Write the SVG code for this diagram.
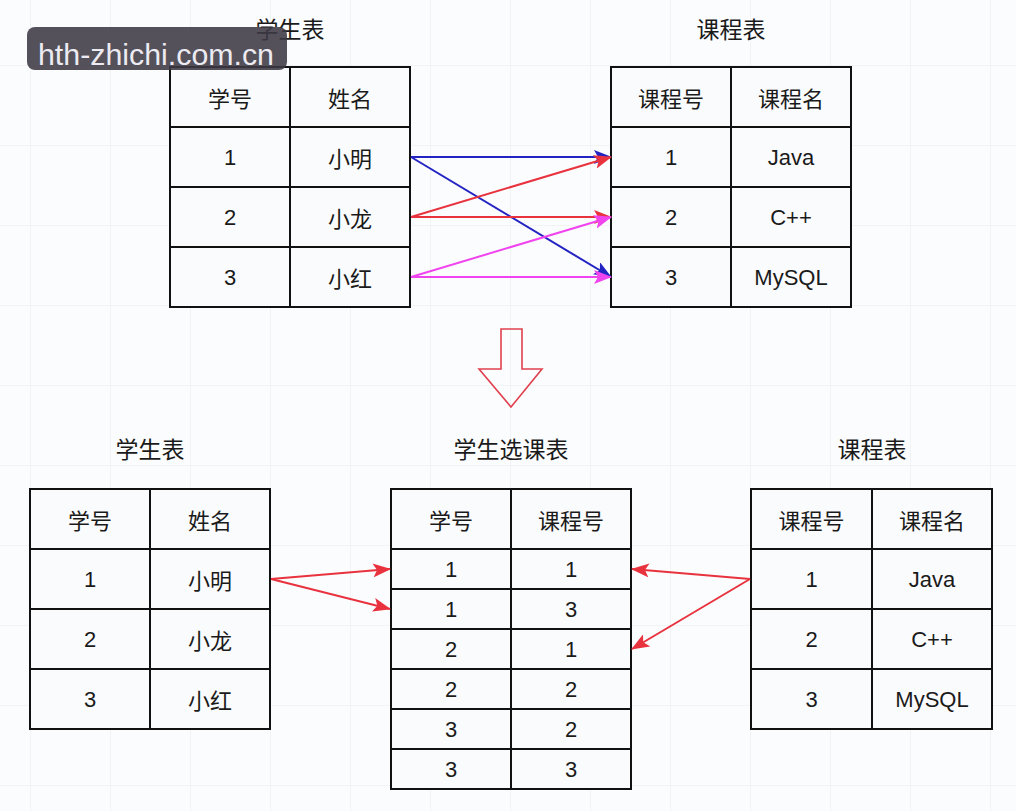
<svg xmlns="http://www.w3.org/2000/svg" width="1016" height="811" viewBox="0 0 1016 811">
<style>
.cell{fill:#fafbfd;stroke:#111;stroke-width:2}
.ln{stroke:#111;stroke-width:2}
.t{font-family:"Liberation Sans","Noto Sans CJK SC",sans-serif;font-size:22px;fill:#1a1a1a;text-anchor:middle;dominant-baseline:central}
.cj{font-family:"Noto Sans CJK SC",sans-serif;font-size:22px;fill:#1a1a1a;text-anchor:middle;dominant-baseline:central}
.title{font-family:"Noto Sans CJK SC",sans-serif;font-size:23px;fill:#1a1a1a;text-anchor:middle;dominant-baseline:central}
.grid{stroke:#e9eaec;stroke-width:1}
</style>
<defs>
<pattern id="gp" x="30" y="65" width="80" height="80" patternUnits="userSpaceOnUse">
<path d="M0,0 H80 M0,0 V80" class="grid" fill="none"/>
</pattern>
<marker id="mb" viewBox="0 0 18 14" refX="17" refY="7" markerWidth="18" markerHeight="14" markerUnits="userSpaceOnUse" orient="auto"><path d="M0,0 L18,7 L0,14 L4,7 z" fill="#2323c4"/></marker>
<marker id="mr" viewBox="0 0 18 14" refX="17" refY="7" markerWidth="18" markerHeight="14" markerUnits="userSpaceOnUse" orient="auto"><path d="M0,0 L18,7 L0,14 L4,7 z" fill="#e8333f"/></marker>
<marker id="mm" viewBox="0 0 18 14" refX="17" refY="7" markerWidth="18" markerHeight="14" markerUnits="userSpaceOnUse" orient="auto"><path d="M0,0 L18,7 L0,14 L4,7 z" fill="#f044ee"/></marker>
</defs>
<rect width="1016" height="811" fill="#fbfcfd"/>
<rect width="1016" height="811" fill="url(#gp)"/>

<g id="title-top-student"><text class="title" x="290" y="28">学生表</text></g>
<g id="title-top-course"><text class="title" x="731" y="28">课程表</text></g>

<g id="table-top-student">
<rect class="cell" x="170" y="67" width="240" height="240"/>
<path class="ln" d="M290,67 V307 M170,127 H410 M170,187 H410 M170,247 H410"/>
<text class="cj" x="230" y="97">学号</text><text class="cj" x="350" y="97">姓名</text>
<text class="t" x="230" y="157">1</text><text class="cj" x="350" y="157">小明</text>
<text class="t" x="230" y="217">2</text><text class="cj" x="350" y="217">小龙</text>
<text class="t" x="230" y="277">3</text><text class="cj" x="350" y="277">小红</text>
</g>

<g id="table-top-course">
<rect class="cell" x="611" y="67" width="240" height="240"/>
<path class="ln" d="M731,67 V307 M611,127 H851 M611,187 H851 M611,247 H851"/>
<text class="cj" x="671" y="97">课程号</text><text class="cj" x="791" y="97">课程名</text>
<text class="t" x="671" y="157">1</text><text class="t" x="791" y="157">Java</text>
<text class="t" x="671" y="217">2</text><text class="t" x="791" y="217">C++</text>
<text class="t" x="671" y="277">3</text><text class="t" x="791" y="277">MySQL</text>
</g>

<g id="down-arrow">
<path d="M501,329 H522 V369 H542 L511,407 L479,369 H501 Z" fill="none" stroke="#e0404e" stroke-width="1.6"/>
</g>

<g id="title-bottom-student"><text class="title" x="150" y="448">学生表</text></g>
<g id="title-bottom-select"><text class="title" x="511" y="448">学生选课表</text></g>
<g id="title-bottom-course"><text class="title" x="872" y="448">课程表</text></g>

<g id="table-bottom-student">
<rect class="cell" x="30" y="489" width="240" height="240"/>
<path class="ln" d="M150,489 V729 M30,549 H270 M30,609 H270 M30,669 H270"/>
<text class="cj" x="90" y="519">学号</text><text class="cj" x="210" y="519">姓名</text>
<text class="t" x="90" y="579">1</text><text class="cj" x="210" y="579">小明</text>
<text class="t" x="90" y="639">2</text><text class="cj" x="210" y="639">小龙</text>
<text class="t" x="90" y="699">3</text><text class="cj" x="210" y="699">小红</text>
</g>

<g id="table-bottom-select">
<rect class="cell" x="391" y="489" width="240" height="300"/>
<path class="ln" d="M511,489 V789 M391,549 H631 M391,589 H631 M391,629 H631 M391,669 H631 M391,709 H631 M391,749 H631"/>
<text class="cj" x="451" y="519">学号</text><text class="cj" x="571" y="519">课程号</text>
<text class="t" x="451" y="569">1</text><text class="t" x="571" y="569">1</text>
<text class="t" x="451" y="609">1</text><text class="t" x="571" y="609">3</text>
<text class="t" x="451" y="649">2</text><text class="t" x="571" y="649">1</text>
<text class="t" x="451" y="689">2</text><text class="t" x="571" y="689">2</text>
<text class="t" x="451" y="729">3</text><text class="t" x="571" y="729">2</text>
<text class="t" x="451" y="769">3</text><text class="t" x="571" y="769">3</text>
</g>

<g id="table-bottom-course">
<rect class="cell" x="751" y="489" width="241" height="240"/>
<path class="ln" d="M872,489 V729 M751,549 H992 M751,609 H992 M751,669 H992"/>
<text class="cj" x="811.5" y="519">课程号</text><text class="cj" x="932" y="519">课程名</text>
<text class="t" x="811.5" y="579">1</text><text class="t" x="932" y="579">Java</text>
<text class="t" x="811.5" y="639">2</text><text class="t" x="932" y="639">C++</text>
<text class="t" x="811.5" y="699">3</text><text class="t" x="932" y="699">MySQL</text>
</g>

<g id="connectors" fill="none" stroke-width="2">
<path d="M411,157 L611,157" stroke="#2323c4" marker-end="url(#mb)"/>
<path d="M411,157 L611,277" stroke="#2323c4" marker-end="url(#mb)"/>
<path d="M411,217 L611,157" stroke="#e8333f" marker-end="url(#mr)"/>
<path d="M411,217 L611,217" stroke="#e8333f" marker-end="url(#mr)"/>
<path d="M411,277 L611,217" stroke="#f044ee" marker-end="url(#mm)"/>
<path d="M411,277 L611,277" stroke="#f044ee" marker-end="url(#mm)"/>
<path d="M271,579 L390,569" stroke="#e8333f" marker-end="url(#mr)"/>
<path d="M271,579 L390,609" stroke="#e8333f" marker-end="url(#mr)"/>
<path d="M750,579 L632,569" stroke="#e8333f" marker-end="url(#mr)"/>
<path d="M750,579 L632,649" stroke="#e8333f" marker-end="url(#mr)"/>
</g>

<g id="watermark">
<rect x="27" y="27" width="260" height="43" rx="8" fill="#3e3944" fill-opacity="0.88"/>
<text x="38" y="65" font-family="Liberation Sans, sans-serif" font-size="29" fill="#ecebf2" textLength="236" lengthAdjust="spacingAndGlyphs">hth-zhichi.com.cn</text>
</g>
</svg>
